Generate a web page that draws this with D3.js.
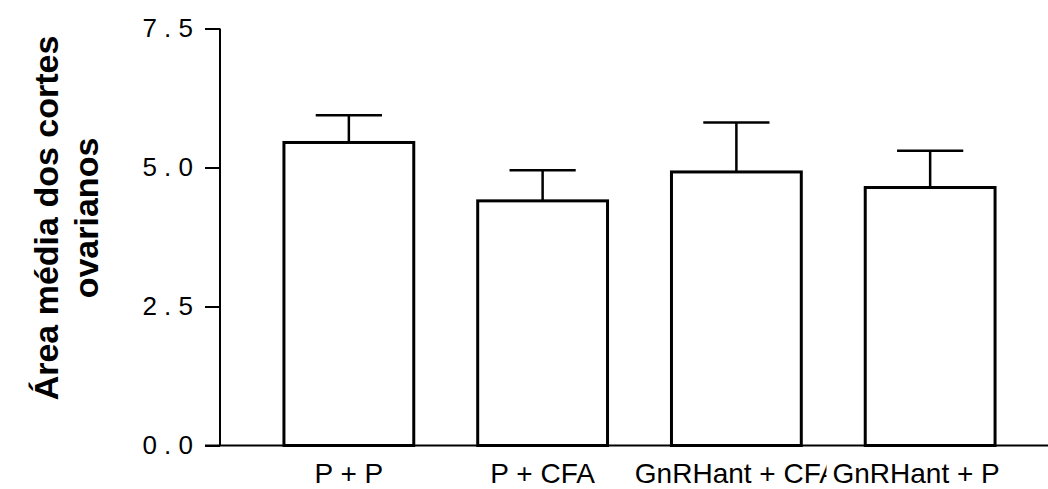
<!DOCTYPE html>
<html>
<head>
<meta charset="utf-8">
<script src="https://cdn.jsdelivr.net/npm/d3@7"></script>
<style>
  body { margin: 0; background: #fff; }
  text { font-family: "Liberation Sans", Arial, sans-serif; }
</style>
</head>
<body>
<script>
var groups = ["P + P", "P + CFA", "GnRHant + CFA", "GnRHant + P"]
var means = [5.45, 4.40, 4.92, 4.64]
var sem = [0.49, 0.55, 0.89, 0.66]
var yTicks = [0, 2.5, 5, 7.5]
var yTitle = ["Área média dos cortes", "ovarianos"]

var width = 1048, height = 489
var font = "'Liberation Sans', Arial, sans-serif"
var svg = d3.select("body").append("svg")
    .attr("width", width)
    .attr("height", height)

var x = d3.scaleBand()
    .domain(groups)
    .range([220, 1059])
    .paddingInner(0.33)
    .paddingOuter(0.33)

var y = d3.scaleLinear()
    .domain([0, 7.5])
    .range([445.5, 28.5])

var data = groups.map(function (g, i) {
    return { name: g, mean: means[i], sem: sem[i] }
})

// error bars (upper only)
var err = svg.append("g").attr("class", "err")
err.selectAll(".stem")
    .data(data)
    .enter()
    .append("line")
    .attr("x1", function (d) { return x(d.name) + x.bandwidth() / 2 })
    .attr("x2", function (d) { return x(d.name) + x.bandwidth() / 2 })
    .attr("y1", function (d) { return y(d.mean) })
    .attr("y2", function (d) { return y(d.mean + d.sem) })
    .style("stroke", "#000")
    .style("stroke-width", 2.5)
err.selectAll(".cap")
    .data(data)
    .enter()
    .append("line")
    .attr("x1", function (d) { return x(d.name) + x.bandwidth() * 0.245 })
    .attr("x2", function (d) { return x(d.name) + x.bandwidth() * 0.755 })
    .attr("y1", function (d) { return y(d.mean + d.sem) })
    .attr("y2", function (d) { return y(d.mean + d.sem) })
    .style("stroke", "#000")
    .style("stroke-width", 2.5)

// bars
svg.append("g").selectAll("rect")
    .data(data)
    .enter()
    .append("rect")
    .attr("x", function (d) { return x(d.name) })
    .attr("y", function (d) { return y(d.mean) })
    .attr("width", x.bandwidth())
    .attr("height", function (d) { return y(0) - y(d.mean) })
    .attr("fill", "#fff")
    .style("stroke", "#000")
    .style("stroke-width", 3)

// y axis
var yAxis = d3.axisLeft(y)
    .tickValues(yTicks)
    .tickSize(15)
    .tickPadding(12)
    .tickFormat(function (d) { return d3.format(".1f")(d).split("").join(" ") })
var gy = svg.append("g")
    .attr("transform", "translate(220,0)")
    .call(yAxis)
    .attr("font-family", null)
    .attr("font-size", null)
gy.select(".domain").remove()
gy.append("line")
    .attr("x1", 0).attr("x2", 0)
    .attr("y1", y(7.5)).attr("y2", y(0))
    .style("stroke", "#000")
    .style("stroke-width", 2)
gy.selectAll(".tick line").style("stroke", "#000").style("stroke-width", 2)
gy.selectAll(".tick text")
    .style("font-family", font)
    .style("font-size", "26px")
    .attr("fill", "#000")

// x axis line
svg.append("line")
    .attr("x1", 205).attr("x2", width)
    .attr("y1", y(0)).attr("y2", y(0))
    .style("stroke", "#000")
    .style("stroke-width", 2)

// x labels, each on a white box so the last one covers the overlap
var xl = svg.append("g").attr("class", "xlabels")
data.forEach(function (d, i) {
    var shift = i === data.length - 1 ? -14 : 0
    var g = xl.append("g")
        .attr("transform", "translate(" + (x(d.name) + x.bandwidth() / 2 + shift) + ",483)")
    var bg = g.append("rect").attr("fill", "#fff")
    var t = g.append("text")
        .attr("text-anchor", "middle")
        .style("font-family", font)
        .style("font-size", "28px")
        .attr("fill", "#000")
        .text(d.name)
    var b = t.node().getBBox()
    bg.attr("x", b.x - 6).attr("y", b.y).attr("width", b.width + 6).attr("height", b.height)
})

// y title
var yt = svg.append("text")
    .attr("transform", "translate(58,218) rotate(-90)")
    .attr("text-anchor", "middle")
    .style("font-family", font)
    .style("font-size", "34px")
    .style("font-weight", "bold")
    .attr("fill", "#000")
yt.append("tspan").attr("x", 0).attr("y", 0).text(yTitle[0])
yt.append("tspan").attr("x", 0).attr("y", 40).text(yTitle[1])
</script>
</body>
</html>
